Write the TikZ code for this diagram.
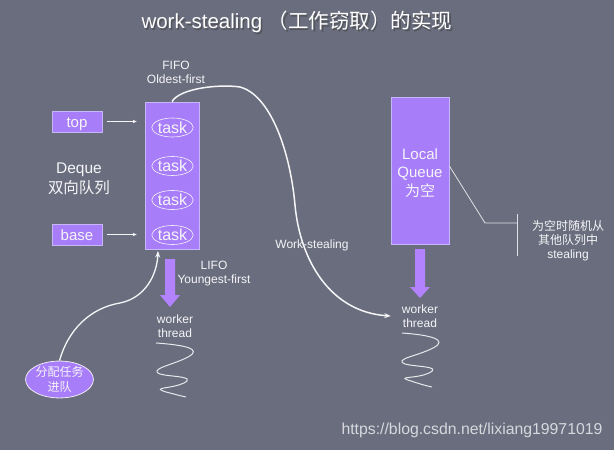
\documentclass[tikz,border=0pt]{standalone}
\usepackage{fontspec}
\setmainfont{Liberation Sans}
\newfontfamily\cjk{Noto Sans CJK SC}
\usetikzlibrary{shapes.geometric,arrows.meta}
\definecolor{bg}{RGB}{106,109,125}
\definecolor{pur}{RGB}{168,125,250}
\definecolor{puredge}{RGB}{200,182,250}
\definecolor{fatpur}{RGB}{178,130,255}
\definecolor{txt}{RGB}{245,245,248}
\definecolor{wm}{RGB}{215,216,222}
\begin{document}
\begin{tikzpicture}[x=1pt,y=-1pt,
  purplebox/.style={draw=puredge, fill=pur, line width=0.8pt, inner sep=0pt},
  lbl/.style={text=txt, font=\fontsize{12}{14}\selectfont, align=center, inner sep=0pt},
  biglbl/.style={text=txt, font=\fontsize{15}{18.5}\selectfont, align=center, inner sep=0pt},
  taskell/.style={ellipse, draw=txt, line width=0.6pt, minimum width=35pt, minimum height=19pt,
    inner sep=0pt, text=txt, font=\fontsize{16}{18}\selectfont},
  ptrbox/.style={purplebox, minimum width=50pt, minimum height=21pt, text=txt,
    font=\fontsize{15}{18}\selectfont, text height=13pt, text depth=1pt},
  smallarrow/.style={draw=txt, line width=0.7pt, -{Stealth[length=4pt,width=3.5pt]}},
  curvearrow/.style={draw=txt, line width=1.5pt, -{Stealth[length=6.5pt,width=5pt]}},
  fatarrow/.style={fill=fatpur},
  squig/.style={draw=txt!90!bg, line width=1pt},
  annot/.style={draw=txt!85!bg, line width=0.8pt}
]
\useasboundingbox (0,0) rectangle (614,450);
\fill[bg] (0,0) rectangle (614,450);

% title
\node[text=black!75, opacity=0.55, inner sep=0pt, font=\fontsize{20.5}{24}\selectfont] (titleshadow) at (298.5,23.5) {work-stealing {\cjk （工作窃取）的实现}};
\node[text=white, inner sep=0pt, font=\fontsize{20.5}{24}\selectfont] (title) at (297,22) {work-stealing {\cjk （工作窃取）的实现}};

% deque
\node[purplebox, minimum width=54pt, minimum height=147pt] (deque) at (172,175.5) {};
\node[taskell] (t1) at (172.5,127.5) {task};
\node[taskell] (t2) at (172.5,166) {task};
\node[taskell] (t3) at (172.5,200) {task};
\node[taskell] (t4) at (172.5,235) {task};

\node[ptrbox] (topbox) at (77,121.5) {top};
\node[ptrbox] (basebox) at (77,234.5) {base};
\draw[smallarrow] ([xshift=5pt]topbox.east) -- ([xshift=-8pt]topbox.east -| deque.west);
\draw[smallarrow] ([xshift=5pt]basebox.east) -- ([xshift=-8pt]basebox.east -| deque.west);

\node[biglbl, font=\fontsize{15.5}{19.5}\selectfont] (dequelbl) at (79,179) {Deque\\{\cjk 双向队列}};

\node[lbl] (fifo) at (176,72.5) {FIFO\\Oldest-first};

% local queue
\node[purplebox, minimum width=58pt, minimum height=147pt] (lq) at (420,170.5) {};
\node[biglbl] (lqlbl) at (420,173) {Local\\Queue\\{\cjk 为空}};

% fat arrows
\fill[fatarrow] (165,259) -- (175,259) -- (175,295) -- (180,295) -- (170,307) -- (160,295) -- (165,295) -- cycle;
\fill[fatarrow] (415,249) -- (425,249) -- (425,287) -- (430,287) -- (420,298) -- (410,287) -- (415,287) -- cycle;

\node[lbl] (lifo) at (214,274) {LIFO\\Youngest-first};
\node[lbl] (wt1) at (175,326) {worker\\thread};
\node[lbl] (wt2) at (420,316) {worker\\thread};

% squiggles
\draw[squig] (156,343) .. controls (185,345) and (203,349) .. (188,357)
  .. controls (173,365) and (148,369) .. (160,374)
  .. controls (170,377) and (197,376) .. (184,383)
  .. controls (172,389) and (150,387) .. (166,392)
  .. controls (174,394) and (181,396) .. (186,397);
\draw[squig] (402,333) .. controls (431,335) and (449,340) .. (433,348)
  .. controls (418,356) and (393,359) .. (405,364)
  .. controls (415,367) and (443,366) .. (429,373)
  .. controls (417,379) and (394,376) .. (411,381)
  .. controls (420,384) and (427,386) .. (432,387);

% work-stealing curve
\coordinate (wsend) at ([xshift=-11pt]wt2.west);
\draw[curvearrow] (deque.north) .. controls (180,88) and (220,84) .. (240,87)
  .. controls (270,95) and (290,150) .. (295,205)
  .. controls (300,260) and (330,312) .. (wsend);
\node[lbl] (wslbl) at (312,245) {Work-stealing};

% task assignment
\node[ellipse, draw=txt!90!pur, fill=pur, line width=0.8pt, minimum width=55pt, minimum height=33pt, inner sep=0pt,
  text=txt, font=\fontsize{12}{15}\selectfont, align=center] (assign) at (59.5,379.5) {{\cjk 分配任务}\\{\cjk 进队}};
\coordinate (assignend) at (158,251);
\draw[curvearrow, line width=1.3pt] (assign.north) .. controls (68,330) and (90,308) .. (120,303)
  .. controls (145,298) and (157,275) .. (assignend);

% annotation
\coordinate (an1) at (485,223);
\coordinate (an2) at (517,223);
\draw[annot] (lq.east |- 0,166) -- (an1) -- (an2);
\draw[annot] (517,214) -- (517,256);
\node[lbl] (annotlbl) at (568,241) {{\cjk 为空时随机从}\\{\cjk 其他队列中}\\stealing};

% watermark
\node[text=wm, inner sep=0pt, font=\fontsize{15.8}{18}\selectfont] (wmark) at (472,430) {https://blog.csdn.net/lixiang19971019};
\end{tikzpicture}
\end{document}
